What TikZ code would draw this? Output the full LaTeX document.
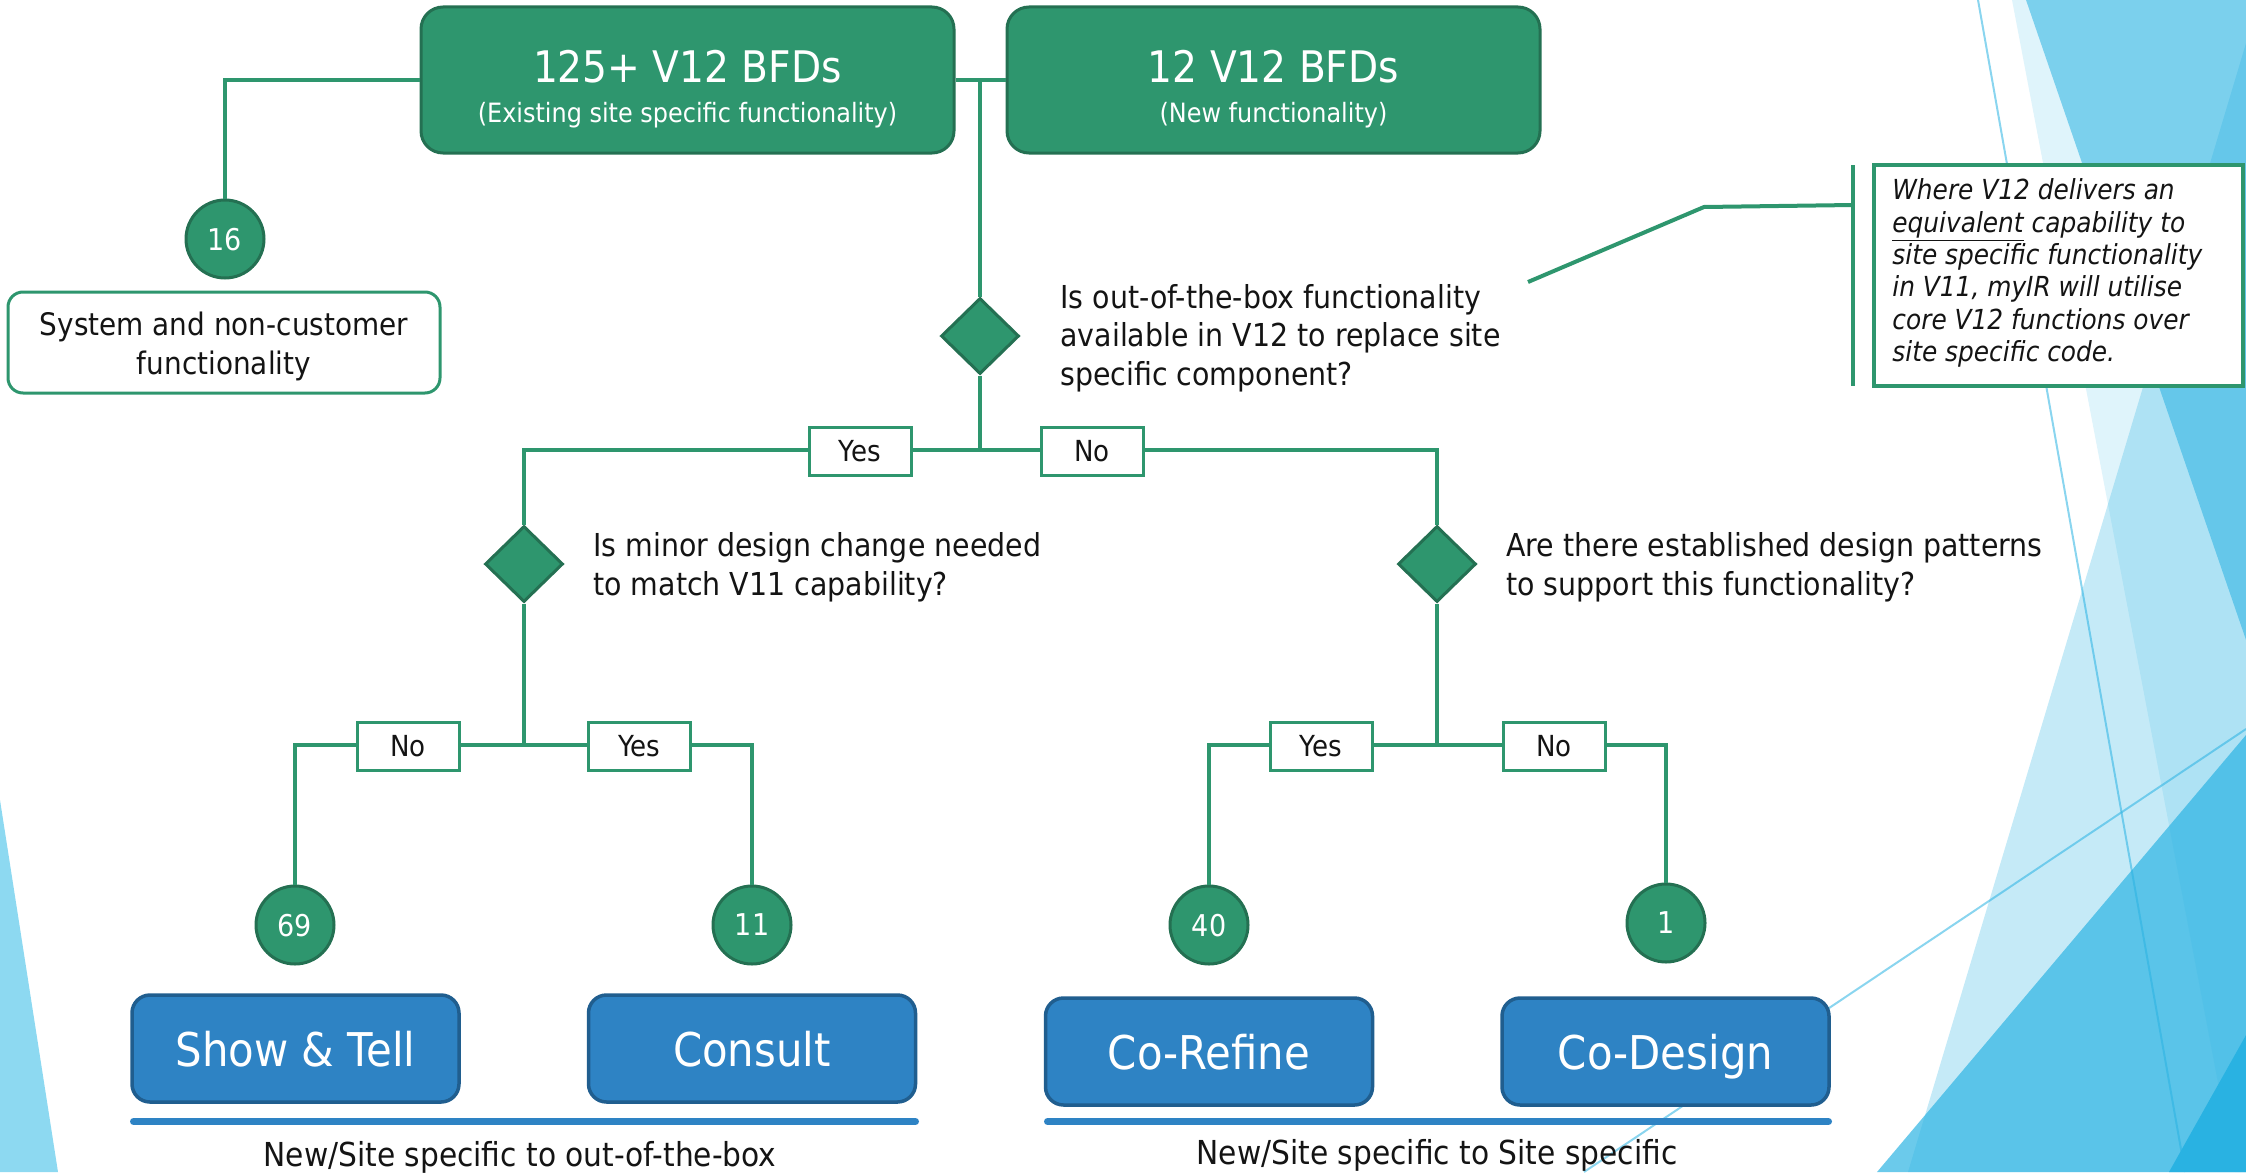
\documentclass[tikz,border=0pt]{standalone}
\usepackage{fontspec}
\setmainfont{DejaVu Sans}[FakeStretch=0.9]
\usetikzlibrary{shapes.geometric}

\definecolor{flowgreen}{RGB}{46,150,110}
\definecolor{flowgreendark}{RGB}{36,112,82}
\definecolor{flowblue}{RGB}{46,131,196}
\definecolor{flowbluedark}{RGB}{32,94,143}
\definecolor{facet}{RGB}{41,178,226}
\definecolor{facetleft}{RGB}{141,217,241}
\definecolor{ink}{RGB}{20,20,20}

\newcommand\setfs[2]{\fontsize{#1}{#2}\selectfont}

\begin{document}
\begin{tikzpicture}[x=0.5pt,y=-0.5pt,
  conn/.style={draw=flowgreen, line width=2pt},
  greenbox/.style={draw=flowgreendark, fill=flowgreen, line width=1.5pt,
    rounded corners=11pt, minimum width=266.5pt, minimum height=73pt, inner sep=0pt},
  titletext/.style={text=white, font=\setfs{21.75}{26}, inner sep=0pt},
  subtext/.style={text=white, font=\setfs{13.3}{16}, inner sep=0pt},
  sysbox/.style={draw=flowgreen, fill=white, line width=1.5pt, rounded corners=7.5pt,
    minimum width=216pt, minimum height=50.5pt, inner sep=0pt},
  systext/.style={align=center, inner sep=0pt, text=ink, font=\setfs{15.5}{19.5}},
  count/.style={circle, draw=flowgreendark, fill=flowgreen, line width=1.5pt,
    minimum size=39pt, inner sep=0pt, text=white, font=\setfs{15}{17}, text depth=0pt},
  decision/.style={diamond, draw=flowgreendark, fill=flowgreen, line width=1.5pt,
    minimum width=39pt, minimum height=38pt, inner sep=0pt},
  question/.style={align=left, inner sep=0pt, text=ink, font=\setfs{15.8}{19.35}},
  answer/.style={rectangle, draw=flowgreen, fill=white, line width=1.5pt,
    minimum width=51pt, minimum height=24pt, inner sep=0pt, text=ink,
    font=\setfs{14.5}{17}, text depth=0pt},
  approach/.style={rectangle, draw=flowbluedark, fill=flowblue, line width=1.75pt,
    rounded corners=9pt, minimum width=163.5pt, minimum height=53.5pt, inner sep=0pt,
    text=white, font=\setfs{23.25}{28}, text depth=0pt},
  bar/.style={draw=flowblue, line width=3.5pt, line cap=round},
  caption/.style={inner sep=0pt, text=ink, font=\setfs{16.5}{19}},
  note/.style={rectangle, draw=flowgreen, fill=white, line width=1.75pt,
    minimum width=184.5pt, minimum height=110.5pt, inner sep=0pt},
  notetext/.style={align=left, inner sep=0pt, text=ink, font=\setfs{13.8}{16.2}\itshape},
]
\useasboundingbox (0,0) rectangle (2246,1172);

% faceted background shapes
\begin{scope}
  \clip (0,0) rectangle (2246,1172);
  \fill[facetleft] (0,800) -- (58,1172) -- (0,1172) -- cycle;
  \fill[facet, opacity=0.15] (2012,0) -- (2235,1172) -- (2246,1172) -- (2246,0) -- cycle;
  \fill[facet, opacity=0.55] (2026,0) -- (2246,0) -- (2246,640) -- cycle;
  \fill[facet, opacity=0.27] (2246,43) -- (1908,1172) -- (2246,1172) -- cycle;
  \fill[facet, opacity=0.69] (1877,1172) -- (2246,735) -- (2246,1172) -- cycle;
  \fill[facet] (2169,1172) -- (2246,1035) -- (2246,1172) -- cycle;
  \draw[facet, opacity=0.55, line width=1pt] (1978,0) -- (2185,1172);
  \draw[facet, opacity=0.55, line width=1pt] (1584,1172) -- (2246,729);
\end{scope}

% top level groups
\node[greenbox] (bfd1) at (687.5,80) {};
\node[titletext, anchor=base] (bfd1t) at (687.5,83) {125+ V12 BFDs};
\node[subtext, anchor=base] (bfd1s) at (687.5,122) {(Existing site specific functionality)};
\node[greenbox] (bfd2) at (1273.5,80) {};
\node[titletext, anchor=base] (bfd2t) at (1273.5,83) {12 V12 BFDs};
\node[subtext, anchor=base] (bfd2s) at (1273.5,122) {(New functionality)};

\node[count] (n16) at (225,239) {16};
\node[sysbox] (sys) at (224,342.5) {};
\node[systext] (syst) at (224,346) {System and non-customer\\functionality};

% first decision
\coordinate (top) at (980,80);
\node[decision] (d1) at (980,336) {};
\node[question, anchor=west] (q1) at (1060,338)
  {Is out-of-the-box functionality\\available in V12 to replace site\\specific component?};

% callout
\coordinate (tip) at (1528,282);
\coordinate (elbow) at (1704,207);
\coordinate (barmid) at (1853,205);
\coordinate (bartop) at (1853,165);
\coordinate (barbot) at (1853,386);
\node[note] (note) at (2058.5,275.5) {};
\node[notetext, anchor=west] (notet) at (1892,273)
  {Where V12 delivers an\\\underline{equivalent} capability to\\site specific functionality\\in V11, myIR will utilise\\core V12 functions over\\site specific code.};

% first answers and second level decisions
\coordinate (j1) at (980,450);
\node[answer] (yes1) at (860,451) {Yes};
\node[answer] (no1) at (1092,451) {No};
\node[decision] (d2) at (524,564) {};
\node[decision] (d3) at (1437,564) {};
\node[question, anchor=west] (q2) at (593,567)
  {Is minor design change needed\\to match V11 capability?};
\node[question, anchor=west] (q3) at (1506,567)
  {Are there established design patterns\\to support this functionality?};

% second answers
\coordinate (j2) at (524,745);
\coordinate (j3) at (1437,745);
\node[answer] (no2) at (408,746) {No};
\node[answer] (yes2) at (639.5,746) {Yes};
\node[answer] (yes3) at (1321,746) {Yes};
\node[answer] (no3) at (1554,746) {No};

% counts
\node[count] (n69) at (295,925) {69};
\node[count] (n11) at (752,925) {11};
\node[count] (n40) at (1209,925) {40};
\node[count] (n1) at (1666,923) {1};

% engagement approaches
\node[approach] (showtell) at (295.5,1048.5) {Show \& Tell};
\node[approach] (consult) at (752,1048.5) {Consult};
\node[approach] (corefine) at (1209,1051.5) {Co-Refine};
\node[approach] (codesign) at (1665.5,1051.5) {Co-Design};

\draw[bar] (133.5,1121.5) -- (915.5,1121.5);
\draw[bar] (1047.5,1121.5) -- (1828.5,1121.5);
\node[caption, anchor=base] (cap1) at (520,1166) {New/Site specific to out-of-the-box};
\node[caption, anchor=base] (cap2) at (1437,1164) {New/Site specific to Site specific};

% connectors
\draw[conn] (bfd1.west) -| (n16.north);
\draw[conn] (bfd1.east) -- (bfd2.west);
\draw[conn] (top) -- (d1.north);
\draw[conn] (d1.south) -- (j1);
\draw[conn] (j1) -- (yes1.east |- j1);
\draw[conn] (j1) -- (no1.west |- j1);
\draw[conn] (yes1.west |- j1) -| (d2.north);
\draw[conn] (no1.east |- j1) -| (d3.north);
\draw[conn] (d2.south) -- (j2);
\draw[conn] (j2) -- (no2.east |- j2);
\draw[conn] (j2) -- (yes2.west |- j2);
\draw[conn] (no2.west |- j2) -| (n69.north);
\draw[conn] (yes2.east |- j2) -| (n11.north);
\draw[conn] (d3.south) -- (j3);
\draw[conn] (j3) -- (yes3.east |- j3);
\draw[conn] (j3) -- (no3.west |- j3);
\draw[conn] (yes3.west |- j3) -| (n40.north);
\draw[conn] (no3.east |- j3) -| (n1.north);
\draw[conn] (tip) -- (elbow) -- (barmid);
\draw[conn] (bartop) -- (barbot);
\end{tikzpicture}
\end{document}
